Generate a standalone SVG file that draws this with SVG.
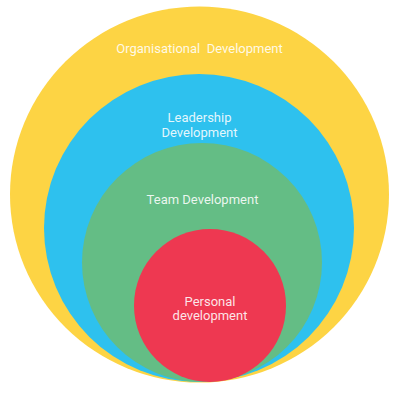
<svg xmlns="http://www.w3.org/2000/svg" width="400" height="400" viewBox="0 0 400 400">
<style>
text{font-family:Roboto,"Liberation Sans",sans-serif;font-size:13px;fill:#fff;fill-opacity:0.88;text-anchor:middle}
</style>
<rect width="400" height="400" fill="#fff"/>
<g id="organisational">
<ellipse cx="199.5" cy="194.5" rx="189.5" ry="188" fill="#FDD444"/>
<text x="199.5" y="53" xml:space="preserve">Organisational  Development</text>
</g>
<g id="leadership">
<ellipse cx="199" cy="228" rx="155" ry="154" fill="#2EC1EE"/>
<text x="199.5" y="122">Leadership</text>
<text x="199.5" y="137">Development</text>
</g>
<g id="team">
<ellipse cx="202" cy="262.5" rx="120" ry="119.5" fill="#64BD85"/>
<text x="202.5" y="204">Team Development</text>
</g>
<g id="personal">
<ellipse cx="210" cy="305.5" rx="76" ry="76.5" fill="#EE3851"/>
<text x="210" y="306">Personal</text>
<text x="210" y="320">development</text>
</g>
</svg>
